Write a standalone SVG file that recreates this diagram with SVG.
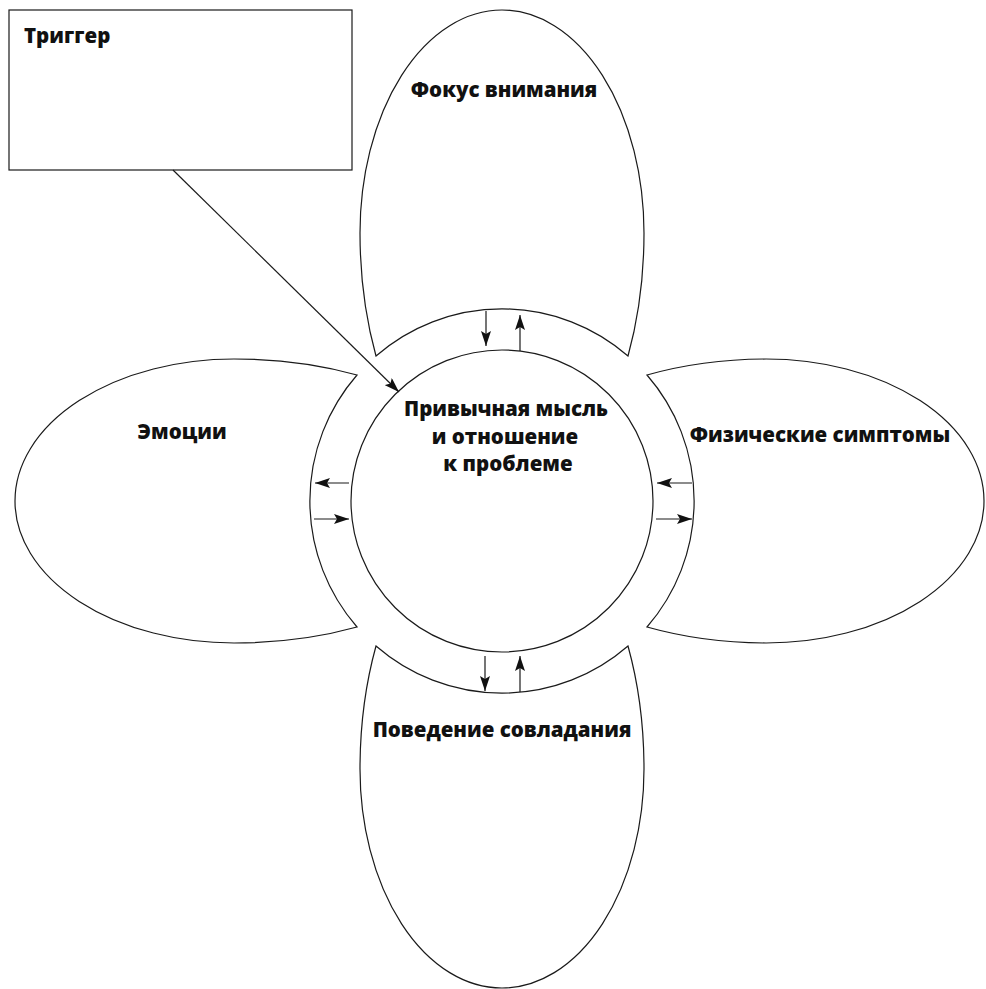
<svg xmlns="http://www.w3.org/2000/svg" width="986" height="989" viewBox="0 0 986 989">
<style>
.shape{fill:#ffffff;stroke:#1a1a1a;stroke-width:1.2}
.conn{stroke:#1a1a1a;stroke-width:1.2;fill:none}
.lbl{font-family:"Open Sans","Noto Sans","Liberation Sans",sans-serif;font-weight:800;font-size:20.5px;fill:#111111}
.mid{text-anchor:middle}
</style>
<defs>
<marker id="ah" viewBox="0 0 15 10" refX="15" refY="5" markerWidth="15" markerHeight="10" markerUnits="userSpaceOnUse" orient="auto">
<path d="M0,0 L15,5 L0,10 L3,5 Z" fill="#111111"/>
</marker>
</defs>
<rect width="986" height="989" fill="#ffffff"/>
<g id="trigger">
<rect class="shape" x="9" y="10" width="343" height="160"/>
<text class="lbl" x="24" y="43">Триггер</text>
</g>
<g id="petal-focus">
<path class="shape" d="M376,356 A142,267 0 0 1 360,233 A142,223 0 0 1 502,10 A142,223 0 0 1 644,233 A142,267 0 0 1 628,356 A192,192 0 0 0 376,356 Z"/>
<text class="lbl mid" x="504" y="97">Фокус внимания</text>
</g>
<g id="petal-emotions">
<path class="shape" d="M357,375 A267,142 0 0 0 234,359 A219,142 0 0 0 15,501 A219,142 0 0 0 234,643 A267,142 0 0 0 357,627 A192,192 0 0 1 357,375 Z"/>
<text class="lbl mid" x="182" y="439">Эмоции</text>
</g>
<g id="petal-physical">
<path class="shape" d="M647,375 A262,142 0 0 1 766,359 A218,142 0 0 1 984,501 A218,142 0 0 1 766,643 A262,142 0 0 1 647,627 A192,192 0 0 0 647,375 Z"/>
<text class="lbl mid" x="820" y="442">Физические симптомы</text>
</g>
<g id="petal-behavior">
<path class="shape" d="M376,646 A142,267 0 0 0 360,769 A142,219 0 0 0 502,988 A142,219 0 0 0 644,769 A142,267 0 0 0 628,646 A192,192 0 0 1 376,646 Z"/>
<text class="lbl mid" x="502" y="737">Поведение совладания</text>
</g>
<g id="core">
<circle class="shape" cx="502" cy="501" r="151"/>
<text class="lbl mid" x="506" y="416">Привычная мысль</text>
<text class="lbl mid" x="505" y="444">и отношение</text>
<text class="lbl mid" x="508" y="471">к проблеме</text>
</g>
<g id="connectors">
<line class="conn" x1="173" y1="170" x2="399" y2="392" marker-end="url(#ah)"/>
<line class="conn" x1="486" y1="311" x2="486" y2="346" marker-end="url(#ah)"/>
<line class="conn" x1="520" y1="351" x2="520" y2="315" marker-end="url(#ah)"/>
<line class="conn" x1="485" y1="656" x2="485" y2="691" marker-end="url(#ah)"/>
<line class="conn" x1="520" y1="692" x2="520" y2="656" marker-end="url(#ah)"/>
<line class="conn" x1="349" y1="483" x2="315" y2="483" marker-end="url(#ah)"/>
<line class="conn" x1="314" y1="519" x2="349" y2="519" marker-end="url(#ah)"/>
<line class="conn" x1="692" y1="483" x2="657" y2="483" marker-end="url(#ah)"/>
<line class="conn" x1="656" y1="519" x2="692" y2="519" marker-end="url(#ah)"/>
</g>
</svg>
